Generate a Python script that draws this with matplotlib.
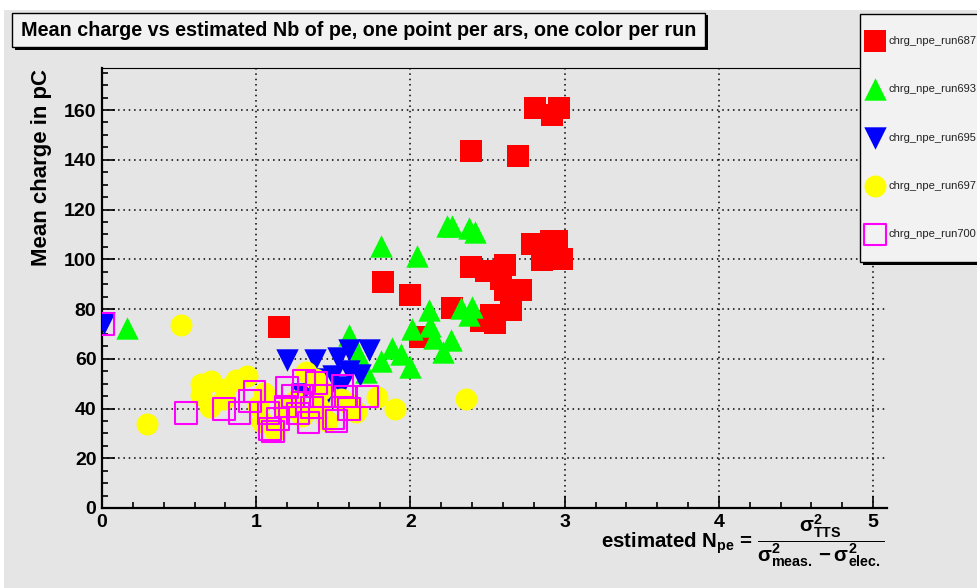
import matplotlib
matplotlib.use('Agg')
import matplotlib.pyplot as plt
from matplotlib.patches import Rectangle
from matplotlib.ticker import MultipleLocator

# ROOT-like look: bold Helvetica-ish text, bold math
plt.rcParams['font.family'] = ['Liberation Sans', 'DejaVu Sans']
plt.rcParams['mathtext.fontset'] = 'custom'
plt.rcParams['mathtext.rm'] = 'Liberation Sans:bold'
plt.rcParams['mathtext.it'] = 'Liberation Sans:bold'
plt.rcParams['mathtext.bf'] = 'Liberation Sans:bold'
plt.rcParams['mathtext.sf'] = 'Liberation Sans:bold'
plt.rcParams['mathtext.default'] = 'bf'

# run 687 (red filled squares)
run687_npe = [1.15, 1.82, 2.00, 2.06, 2.27, 2.39, 2.39, 2.46, 2.49, 2.52, 2.55, 2.59, 2.61, 2.61,
              2.65, 2.70, 2.72, 2.79, 2.81, 2.85, 2.91, 2.92, 2.95, 2.96, 2.98]
run687_q = [72.6, 90.9, 85.8, 68.9, 80.5, 143.7, 96.8, 75.2, 95.1, 77.5, 74.4, 92.0, 97.8, 87.8,
            79.8, 141.5, 87.8, 106.2, 160.8, 99.8, 107.5, 158.2, 107.5, 160.8, 100.1]

# run 693 (green triangles)
run693_npe = [0.165, 1.60, 1.66, 1.71, 1.81, 1.81, 1.88, 1.94, 2.00, 2.01, 2.04, 2.12, 2.13, 2.15,
              2.21, 2.26, 2.24, 2.27, 2.33, 2.38, 2.40, 2.38, 2.42]
run693_q = [72.2, 69.5, 61.9, 54.8, 105.4, 59.3, 64.4, 61.9, 56.6, 71.9, 101.4, 79.6, 73.2, 68.5,
            62.8, 67.5, 113.4, 113.4, 80.4, 112.6, 80.9, 77.6, 110.8]

# run 695 (blue inverted triangles)
run695_npe = [0.01, 1.20, 1.38, 1.53, 1.60, 1.73, 1.50, 1.60, 1.67, 1.35, 1.55, 1.45, 1.30, 1.42]
run695_q = [74.5, 59.5, 59.4, 60.5, 63.6, 63.4, 53.1, 55.0, 53.3, 49.0, 48.5, 45.0, 46.0, 52.0]

# run 697 (yellow circles)
run697_npe = [0.29, 0.51, 0.64, 0.64, 0.71, 0.70, 0.79, 0.80, 0.87, 0.94, 1.01, 1.05, 1.04, 1.12,
              1.18, 1.25, 1.32, 1.38, 1.30, 1.40, 1.46, 1.55, 1.65, 1.60, 1.78, 1.90, 2.36, 1.42]
run697_q = [33.8, 73.4, 49.9, 45.5, 51.2, 40.6, 43.7, 48.0, 51.6, 53.1, 41.0, 46.4, 34.4, 31.0,
            40.0, 43.0, 54.5, 52.0, 37.0, 41.0, 35.0, 44.0, 38.4, 42.0, 44.8, 39.7, 43.7, 47.5]

# run 700 (magenta open squares)
run700_npe = [0.01, 0.545, 0.79, 0.89, 0.96, 0.99, 1.08, 1.09, 1.11, 1.14, 1.19, 1.20, 1.24, 1.27,
              1.30, 1.31, 1.34, 1.36, 1.39, 1.42, 1.50, 1.56, 1.58, 1.60, 1.72, 1.52]
run700_q = [74.0, 38.1, 39.9, 38.1, 43.1, 46.9, 38.1, 31.7, 30.8, 35.7, 40.9, 48.5, 45.0, 38.0,
            45.0, 51.1, 34.4, 40.5, 50.3, 45.1, 36.1, 49.1, 44.8, 39.7, 44.8, 35.0]

W, H = 977, 588
fig = plt.figure(figsize=(W / 100, H / 100), dpi=100, facecolor='white')
bg = '#e5e5e5'
# gray canvas pad (white strip on top/left like the original)
fig.patches.append(Rectangle((4 / W, 0), 1, 1 - 10 / H, transform=fig.transFigure,
                             facecolor=bg, edgecolor='none', zorder=-10))

ax = fig.add_axes([102 / W, 1 - 508 / H, (887 - 102) / W, (508 - 68) / H])
ax.set_facecolor(bg)

ax.scatter(run687_npe, run687_q, marker='s', s=250, color='#ff0000', linewidths=0, zorder=3,
           label='chrg_npe_run687')
ax.scatter(run693_npe, run693_q, marker='^', s=260, color='#00ff00', linewidths=0, zorder=4,
           label='chrg_npe_run693')
ax.scatter(run695_npe, run695_q, marker='v', s=260, color='#0000ff', linewidths=0, zorder=5,
           label='chrg_npe_run695')
ax.scatter(run697_npe, run697_q, marker='o', s=250, color='#ffff00', linewidths=0, zorder=6,
           label='chrg_npe_run697')
ax.scatter(run700_npe, run700_q, marker='s', s=240, facecolors='none', edgecolors='#ff00ff',
           linewidths=1.5, zorder=7, label='chrg_npe_run700')

ax.set_xlim(0, 5.09)
ax.set_ylim(0, 176.9)
ax.xaxis.set_major_locator(MultipleLocator(1))
ax.xaxis.set_minor_locator(MultipleLocator(0.2))
ax.yaxis.set_major_locator(MultipleLocator(20))
ax.yaxis.set_minor_locator(MultipleLocator(5))
ax.tick_params(which='both', direction='in', top=False, right=False, width=1.2)
ax.tick_params(which='major', length=9, labelsize=14, pad=4)
ax.tick_params(which='minor', length=4.5)
for lab in ax.get_xticklabels() + ax.get_yticklabels():
    lab.set_fontweight('bold')

ax.grid(True, which='major', color='black', linestyle=(0, (1, 2.5)), linewidth=1.1)
ax.set_axisbelow(True)

ax.spines['left'].set_linewidth(1.6)
ax.spines['bottom'].set_linewidth(1.6)
ax.spines['top'].set_linewidth(0.8)
ax.spines['right'].set_visible(False)

# axis titles
fig.text(42 / W, 1 - 69 / H, 'Mean charge in pC', rotation=90, ha='center', va='top',
         fontsize=16, fontweight='bold')
fig.text(885 / W, 1 - 541 / H,
         r'estimated N$_{pe}$ = $\dfrac{\sigma^{2}_{TTS}}{\sigma^{2}_{meas.} - \sigma^{2}_{elec.}}$',
         ha='right', va='center', fontsize=14.7, fontweight='bold')

# title box with black shadow
fig.patches.append(Rectangle((15 / W, 1 - 50 / H), 693 / W, 35 / H, transform=fig.transFigure,
                             facecolor='black', edgecolor='none', zorder=5))
fig.patches.append(Rectangle((12 / W, 1 - 47 / H), 693 / W, 34 / H, transform=fig.transFigure,
                             facecolor='#f2f2f2', edgecolor='black', linewidth=1, zorder=6))
fig.text(358.5 / W, 1 - 30.5 / H, 'Mean charge vs estimated Nb of pe, one point per ars, one color per run',
         ha='center', va='center', fontsize=14.2, fontweight='bold', zorder=7)

# legend box with black shadow
fig.patches.append(Rectangle((863 / W, 1 - 265 / H), 120 / W, 251 / H, transform=fig.transFigure,
                             facecolor='black', edgecolor='none', zorder=8))
fig.patches.append(Rectangle((860 / W, 1 - 262 / H), 120 / W, 248 / H, transform=fig.transFigure,
                             facecolor='#f2f2f2', edgecolor='black', linewidth=1, zorder=9))
handles, labels = ax.get_legend_handles_labels()
leg = fig.legend(handles, labels, loc='upper left', bbox_to_anchor=(866 / W, 1 - 36 / H),
                 frameon=False, fontsize=8, labelspacing=3.45, handletextpad=0.46,
                 handlelength=1.6, borderaxespad=0, borderpad=0, scatterpoints=1)
leg.set_zorder(10)
for t in leg.get_texts():
    t.set_color('#222222')

fig.savefig('out.png', dpi=100, facecolor=fig.get_facecolor())
